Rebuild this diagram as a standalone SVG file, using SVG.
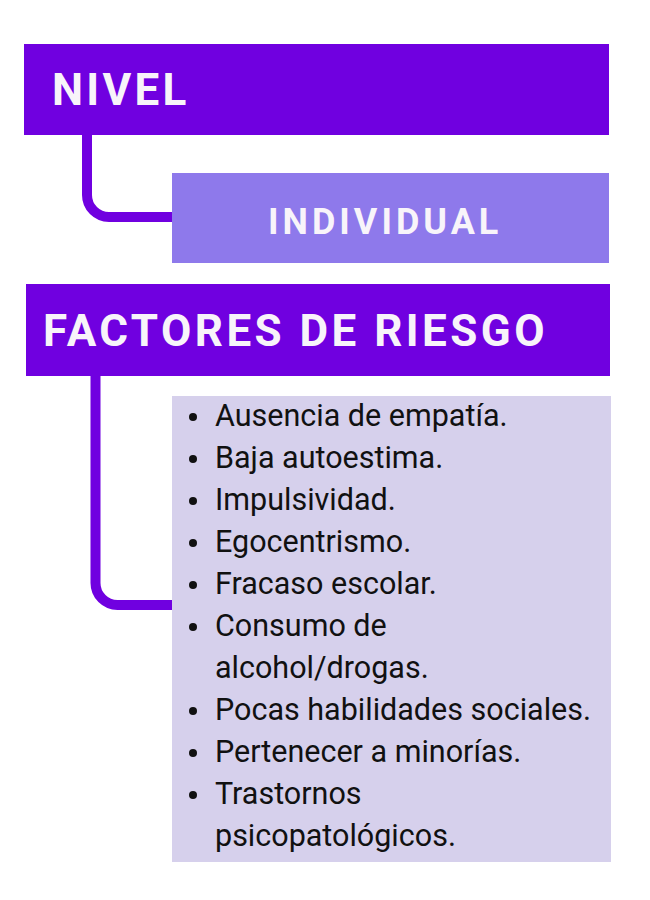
<svg xmlns="http://www.w3.org/2000/svg" width="650" height="900" viewBox="0 0 650 900">
<style>
.hdr{fill:#7000E0}
.sub{fill:#8E79EB}
.lst{fill:#D6D0EC}
.conn{fill:none;stroke:#7000E0;stroke-width:10}
.ht{font-family:Roboto,"Liberation Sans",sans-serif;font-weight:700;fill:#F8F4FA}
.li{font-family:Roboto,"Liberation Sans",sans-serif;font-size:30.5px;fill:#111111}
.bul{fill:#111111}
</style>
<rect width="650" height="900" fill="#FFFFFF"/>
<g id="connectors">
<path class="conn" d="M87 134 V195 A22 22 0 0 0 109 217 H173"/>
<path class="conn" d="M95.5 375 V583 A22 22 0 0 0 117.5 605 H173"/>
</g>
<g id="nivel">
<rect class="hdr" x="24" y="44" width="585" height="91"/>
<text class="ht" x="52" y="105" font-size="44" letter-spacing="3.3">NIVEL</text>
</g>
<g id="individual">
<rect class="sub" x="172" y="173" width="437" height="90"/>
<text class="ht" x="268" y="234" font-size="36" letter-spacing="4">INDIVIDUAL</text>
</g>
<g id="factores">
<rect class="hdr" x="26" y="284" width="584" height="92"/>
<text class="ht" x="43" y="346" font-size="44" letter-spacing="3.45">FACTORES DE RIESGO</text>
</g>
<g id="lista">
<rect class="lst" x="172" y="396" width="439" height="466"/>
<g class="bul">
<circle cx="193" cy="417" r="4"/>
<circle cx="193" cy="459" r="4"/>
<circle cx="193" cy="501" r="4"/>
<circle cx="193" cy="543" r="4"/>
<circle cx="193" cy="585" r="4"/>
<circle cx="193" cy="627" r="4"/>
<circle cx="193" cy="711" r="4"/>
<circle cx="193" cy="753" r="4"/>
<circle cx="193" cy="795" r="4"/>
</g>
<text class="li" x="215" y="426">Ausencia de empatía.</text>
<text class="li" x="215" y="468">Baja autoestima.</text>
<text class="li" x="215" y="510">Impulsividad.</text>
<text class="li" x="215" y="552">Egocentrismo.</text>
<text class="li" x="215" y="594">Fracaso escolar.</text>
<text class="li" x="215" y="636">Consumo de</text>
<text class="li" x="215" y="678">alcohol/drogas.</text>
<text class="li" x="215" y="720">Pocas habilidades sociales.</text>
<text class="li" x="215" y="762">Pertenecer a minorías.</text>
<text class="li" x="215" y="804">Trastornos</text>
<text class="li" x="215" y="846">psicopatológicos.</text>
</g>
</svg>
